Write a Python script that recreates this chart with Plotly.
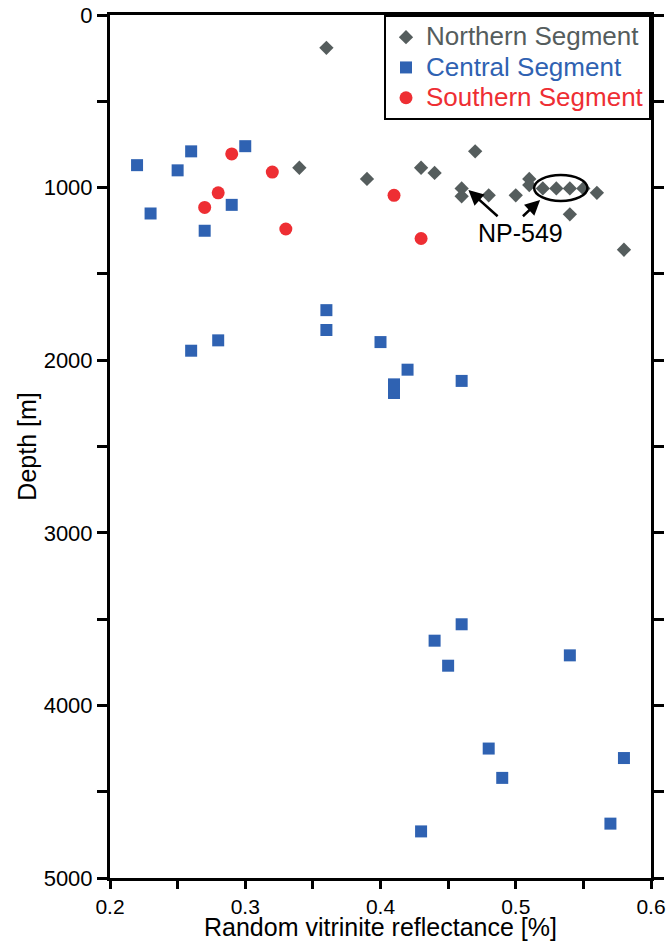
import plotly.graph_objects as go

# ---- data ----
north_x = [0.36, 0.34, 0.39, 0.43, 0.44, 0.47, 0.46, 0.46, 0.48, 0.50, 0.51, 0.51,
           0.52, 0.53, 0.54, 0.55, 0.56, 0.54, 0.58]
north_y = [190, 885, 950, 885, 915, 790, 1005, 1050, 1045, 1045, 950, 985,
           1005, 1005, 1005, 1005, 1030, 1155, 1360]

central_x = [0.22, 0.26, 0.25, 0.30, 0.29, 0.23, 0.27, 0.36, 0.36, 0.28, 0.26, 0.40,
             0.42, 0.41, 0.41, 0.46, 0.46, 0.44, 0.45, 0.54, 0.48, 0.49, 0.58, 0.57, 0.43]
central_y = [870, 790, 900, 760, 1100, 1150, 1250, 1710, 1825, 1885, 1945, 1895,
             2055, 2140, 2190, 2120, 3530, 3625, 3770, 3710, 4250, 4420, 4305, 4685, 4730]

south_x = [0.29, 0.32, 0.28, 0.27, 0.33, 0.41, 0.43]
south_y = [805, 910, 1030, 1115, 1240, 1045, 1295]

x_tickvals = [0.2, 0.25, 0.3, 0.35, 0.4, 0.45, 0.5, 0.55, 0.6]
x_ticktext = ["0.2", "", "0.3", "", "0.4", "", "0.5", "", "0.6"]
y_tickvals = [0, 500, 1000, 1500, 2000, 2500, 3000, 3500, 4000, 4500, 5000]
y_ticktext = ["0", "", "1000", "", "2000", "", "3000", "", "4000", "", "5000"]

names = ["Northern Segment", "Central Segment", "Southern Segment"]
colors = ["#555d5d", "#2f62b2", "#ee2e33"]
x_title = "Random vitrinite reflectance [%]"
y_title = "Depth [m]"

# annotation geometry (data coordinates)
ell_x = [0.5136, 0.553]
ell_y = [927, 1078]
label_pos = (0.5035, 1265)
arrow1 = dict(tip=(0.465, 1014), tail=(0.4877, 1174))
arrow2 = dict(tip=(0.518, 1072), tail=(0.5042, 1174))

FONT = "Liberation Sans, Arial, Helvetica, sans-serif"


def legend_label(name, color):
    return f"<span style='color:{color};font-size:26px'>{name}</span>"


fig = go.Figure()
fig.add_trace(go.Scatter(x=north_x, y=north_y, mode="markers",
                         name=legend_label(names[0], colors[0]),
                         marker=dict(symbol="diamond", size=11, color=colors[0])))
fig.add_trace(go.Scatter(x=central_x, y=central_y, mode="markers",
                         name=legend_label(names[1], colors[1]),
                         marker=dict(symbol="square", size=12, color=colors[1])))
fig.add_trace(go.Scatter(x=south_x, y=south_y, mode="markers",
                         name=legend_label(names[2], colors[2]),
                         marker=dict(symbol="circle", size=13, color=colors[2])))

fig.add_shape(type="circle", xref="x", yref="y", x0=ell_x[0], x1=ell_x[1],
              y0=ell_y[0], y1=ell_y[1], line=dict(color="black", width=2.5))

for a in (arrow1, arrow2):
    fig.add_annotation(x=a["tip"][0], y=a["tip"][1], ax=a["tail"][0], ay=a["tail"][1],
                       xref="x", yref="y", axref="x", ayref="y", text="",
                       showarrow=True, arrowhead=2, arrowsize=1.2, arrowwidth=2.5,
                       arrowcolor="black")
fig.add_annotation(x=label_pos[0], y=label_pos[1], xref="x", yref="y", text="NP-549",
                   showarrow=False, font=dict(family=FONT, size=25, color="black"))

# x-axis title as a paper annotation sitting at the bottom edge
fig.add_annotation(x=0.5, y=0, xref="paper", yref="paper", xanchor="center",
                   yanchor="bottom", yshift=-64, text=x_title, showarrow=False,
                   borderpad=0, font=dict(family=FONT, size=25, color="black"))

fig.update_layout(
    width=672, height=941,
    margin=dict(l=110, r=21, t=15, b=63),
    paper_bgcolor="white", plot_bgcolor="white",
    font=dict(family=FONT, size=22, color="black"),
    showlegend=True,
    legend=dict(x=1, xanchor="right", y=1, yanchor="top",
                bgcolor="white", bordercolor="black", borderwidth=2,
                font=dict(family=FONT, size=21),
                itemwidth=30, tracegroupgap=0),
    xaxis=dict(range=[0.2, 0.6], tickvals=x_tickvals, ticktext=x_ticktext,
               ticks="outside", ticklen=8, tickwidth=3, tickcolor="black",
               tickfont=dict(size=21),
               showline=True, linecolor="black", linewidth=3, mirror=True,
               showgrid=False, zeroline=False, automargin=False),
    yaxis=dict(range=[5000, 0], tickvals=y_tickvals, ticktext=y_ticktext,
               ticks="outside", ticklen=10, tickwidth=3, tickcolor="black",
               showline=True, linecolor="black", linewidth=3, mirror="ticks",
               showgrid=False, zeroline=False, automargin=False,
               title=dict(text=y_title, font=dict(size=25), standoff=0)),
)

fig.write_html("out.html",
               config={"displayModeBar": False},
               post_script="document.body.style.margin='0';document.body.style.overflow='hidden';")
